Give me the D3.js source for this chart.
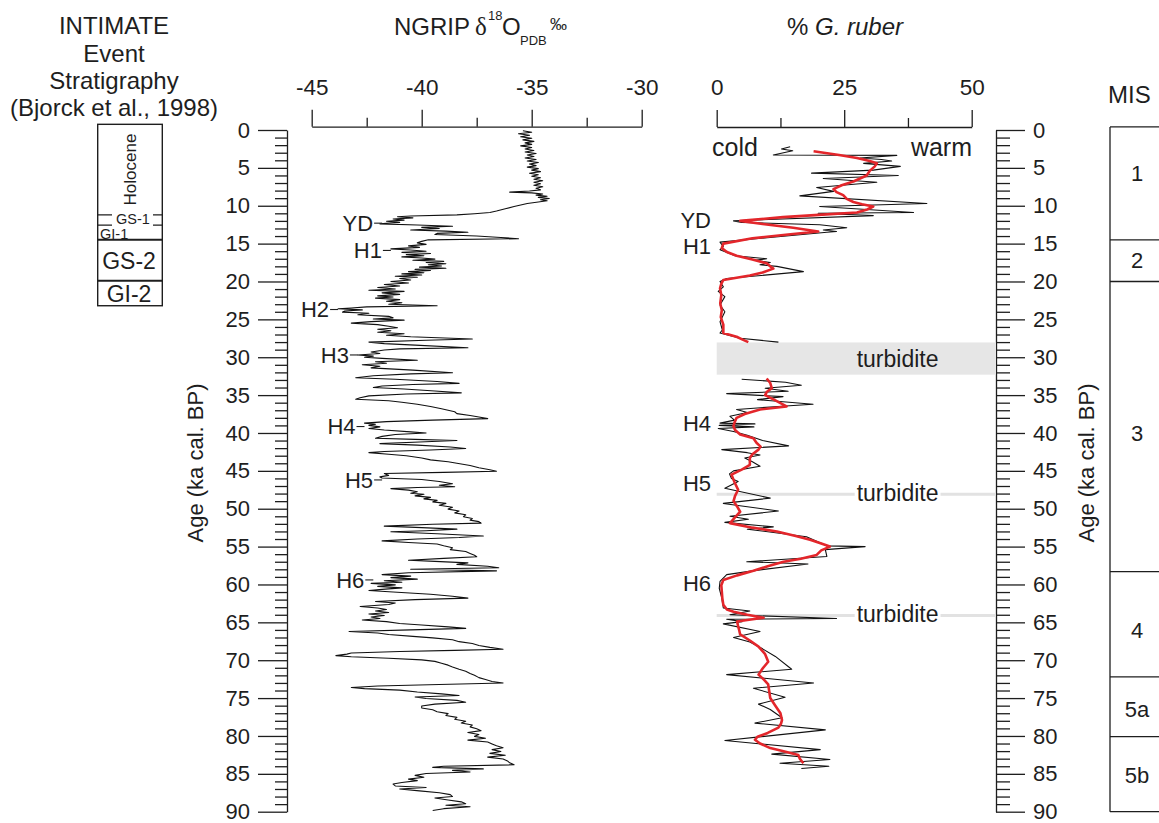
<!DOCTYPE html>
<html><head><meta charset="utf-8">
<script src="https://cdn.jsdelivr.net/npm/d3@7"></script>
<style>
html,body{margin:0;padding:0;background:#fff;}
svg{display:block;font-family:"Liberation Sans",Arial,Helvetica,sans-serif;}
</style></head><body>
<svg id="chart" width="1159" height="823"></svg>
<script>
// ---- axis ticks ----
const ageTicks = [0,5,10,15,20,25,30,35,40,45,50,55,60,65,70,75,80,85,90];
const ngripTicks = [-45,-40,-35,-30];
const ngripMinorTicks = [-42.5,-37.5,-32.5];
const ruberTicks = [0,25,50];
const ruberMinorTicks = [12.5,37.5];

// ---- INTIMATE event stratigraphy (ka) ----
const intimateNames = ["Holocene","GS-1","GI-1","GS-2","GI-2"];
const intimateBounds = [-0.75,11.2,12.55,14.5,19.9,23.2];

// ---- Marine isotope stages (ka) ----
const misNames = ["1","2","3","4","5a","5b"];
const misBounds = [-0.4,14.5,20,58.3,72.2,80.1,90];
const misLabelAges = [5.7,17.2,40,66,76.5,85.1];

// ---- cold events: [name, age ka, NGRIP value at the event] ----
const ngripEvents = [["YD",12.3,-41.8],["H1",15.9,-41.4],["H2",23.7,-43.8],["H3",29.7,-42.9],["H4",39.15,-42.6],["H5",46.2,-41.8],["H6",59.4,-42.2]];
const ruberEvents = [["YD",11.9],["H1",15.4],["H4",38.7],["H5",46.6],["H6",59.9]];

// ---- turbidites (ka) ----
const turbiditeBand = [28.05,32.3];
const turbiditeLayers = [48.1,64.1];

// ---- NGRIP d18O: [age ka, permil] ----
const ngrip = [
[0.1,-35.4],[0.3,-35.0],[0.5,-35.6],[0.7,-35.1],[0.9,-35.5],[1.1,-35.0],[1.3,-35.4],[1.5,-34.9],[1.7,-35.3],[1.9,-35.0],
[2.1,-35.5],[2.3,-35.0],[2.5,-35.3],[2.7,-34.9],[2.9,-35.3],[3.1,-34.8],[3.3,-35.2],[3.5,-34.9],[3.7,-35.3],[3.9,-34.8],
[4.1,-35.2],[4.3,-34.7],[4.5,-35.1],[4.7,-34.8],[4.9,-35.2],[5.1,-34.7],[5.3,-35.0],[5.5,-34.6],[5.7,-35.1],[5.9,-34.7],
[6.1,-35.0],[6.3,-34.6],[6.5,-34.9],[6.7,-34.5],[6.9,-34.9],[7.1,-34.6],[7.3,-34.9],[7.5,-34.5],[7.7,-34.8],[7.9,-34.6],
[8.05,-35.1],[8.2,-36.0],[8.3,-35.0],[8.45,-34.5],[8.6,-34.8],[8.75,-34.3],[8.9,-34.7],[9.05,-34.2],[9.2,-34.6],[9.35,-34.3],
[9.5,-34.7],[9.7,-35.2],[9.9,-35.5],[10.1,-35.8],[10.4,-36.2],[10.7,-36.6],[10.9,-36.9],[11.05,-37.6],[11.2,-38.4],[11.35,-40.5],
[11.45,-41.1],[11.6,-40.4],[11.75,-41.3],[11.9,-40.8],[12.05,-41.6],[12.2,-41.0],[12.4,-41.9],[12.55,-40.2],[12.7,-38.6],[12.85,-40.0],
[13.0,-39.2],[13.2,-40.5],[13.35,-38.9],[13.5,-37.9],[13.65,-39.3],[13.8,-39.4],[14.0,-37.5],[14.2,-36.4],[14.35,-35.6],[14.5,-39.7],
[14.7,-40.0],[14.9,-40.2],[15.1,-39.8],[15.3,-40.6],[15.5,-40.1],[15.7,-41.4],[15.85,-40.5],[16.0,-39.8],[16.15,-40.9],[16.3,-39.6],
[16.45,-40.7],[16.6,-39.9],[16.75,-40.9],[16.9,-40.0],[17.05,-39.4],[17.2,-40.4],[17.35,-39.0],[17.5,-39.8],[17.65,-38.9],[17.8,-39.7],
[17.95,-39.1],[18.1,-40.1],[18.25,-38.9],[18.4,-40.3],[18.55,-39.6],[18.7,-40.6],[18.85,-39.9],[19.0,-40.9],[19.15,-40.0],[19.3,-41.2],
[19.45,-40.2],[19.6,-41.0],[19.8,-40.5],[20.0,-41.4],[20.2,-40.6],[20.4,-41.7],[20.6,-41.0],[20.8,-42.0],[21.0,-41.2],[21.15,-42.4],
[21.3,-40.8],[21.5,-41.8],[21.7,-41.0],[21.9,-42.0],[22.05,-41.3],[22.2,-42.1],[22.4,-41.0],[22.6,-41.6],[22.8,-40.9],[23.0,-41.5],
[23.2,-39.3],[23.35,-42.5],[23.5,-43.2],[23.6,-43.8],[23.75,-42.7],[23.9,-43.5],[24.05,-43.6],[24.2,-42.4],[24.4,-42.9],[24.6,-41.5],
[24.8,-41.3],[24.95,-42.2],[25.1,-40.8],[25.3,-42.3],[25.5,-43.2],[25.7,-42.0],[25.9,-41.5],[26.1,-41.1],[26.3,-42.0],[26.5,-41.4],
[26.7,-42.0],[26.9,-40.8],[27.1,-41.6],[27.3,-40.5],[27.6,-37.7],[27.75,-39.8],[28.0,-42.4],[28.2,-41.7],[28.4,-40.3],[28.75,-37.9],
[28.9,-41.0],[29.05,-41.7],[29.3,-42.3],[29.5,-41.9],[29.7,-42.9],[29.85,-42.2],[30.0,-42.6],[30.15,-41.8],[30.4,-40.2],[30.6,-42.1],
[30.8,-41.6],[31.0,-42.7],[31.2,-41.9],[31.4,-42.3],[31.7,-40.4],[32.05,-38.6],[32.2,-40.5],[32.45,-42.2],[32.7,-43.0],[32.9,-41.2],
[33.2,-39.3],[33.45,-38.3],[33.6,-40.4],[33.8,-41.8],[34.0,-42.2],[34.2,-40.8],[34.45,-39.4],[34.7,-38.2],[34.85,-40.7],[35.1,-42.4],
[35.35,-42.8],[35.55,-43.0],[35.75,-41.5],[35.95,-40.9],[36.2,-40.2],[36.5,-39.6],[36.8,-39.1],[37.0,-38.8],[37.2,-38.5],[37.45,-38.4],
[37.7,-37.8],[37.9,-37.4],[38.1,-37.0],[38.3,-39.5],[38.5,-41.6],[38.7,-42.6],[38.85,-42.1],[39.0,-42.4],[39.2,-41.9],[39.4,-42.4],
[39.6,-41.7],[39.85,-40.5],[40.0,-39.8],[40.2,-41.2],[40.45,-41.8],[40.7,-42.1],[40.85,-40.3],[41.0,-38.4],[41.2,-40.1],[41.4,-41.9],
[41.6,-40.2],[41.85,-38.7],[42.05,-38.0],[42.25,-39.6],[42.45,-41.7],[42.6,-42.4],[42.8,-41.5],[43.0,-40.7],[43.3,-40.0],[43.55,-39.6],
[43.8,-38.8],[44.0,-38.4],[44.3,-37.8],[44.6,-37.4],[44.85,-36.9],[45.05,-36.6],[45.2,-39.0],[45.35,-41.7],[45.6,-41.5],[45.8,-41.9],
[45.95,-41.8],[46.15,-40.0],[46.4,-39.2],[46.7,-38.6],[46.9,-39.2],[47.1,-38.5],[47.2,-40.2],[47.35,-41.4],[47.55,-40.6],[47.75,-40.2],
[47.95,-40.5],[48.1,-39.9],[48.3,-40.3],[48.5,-39.6],[48.7,-39.9],[48.9,-39.3],[49.1,-39.5],[49.3,-38.9],[49.55,-39.2],[49.8,-38.6],
[50.05,-38.8],[50.3,-38.3],[50.55,-38.5],[50.8,-38.0],[51.05,-38.1],[51.3,-37.7],[51.5,-37.8],[51.7,-37.4],[51.9,-37.3],[52.05,-39.5],
[52.3,-41.7],[52.5,-40.0],[52.7,-38.4],[52.9,-39.8],[53.05,-41.4],[53.3,-39.3],[53.6,-37.2],[53.8,-38.3],[54.0,-40.2],[54.25,-41.8],
[54.45,-40.6],[54.65,-39.3],[54.9,-39.0],[55.15,-38.6],[55.4,-38.7],[55.65,-38.0],[55.9,-37.8],[56.15,-37.6],[56.35,-37.5],[56.55,-39.0],
[56.8,-40.6],[56.95,-39.4],[57.15,-37.9],[57.35,-38.4],[57.6,-37.0],[57.8,-36.5],[58.0,-40.5],[58.2,-36.6],[58.45,-40.6],[58.7,-41.8],
[58.9,-40.5],[59.1,-41.4],[59.3,-40.2],[59.5,-41.7],[59.7,-40.9],[59.85,-42.3],[60.05,-41.2],[60.25,-42.0],[60.45,-40.9],[60.65,-41.8],
[60.8,-42.4],[61.0,-41.3],[61.3,-39.6],[61.55,-38.6],[61.8,-37.9],[62.0,-40.3],[62.25,-42.1],[62.45,-41.2],[62.65,-41.5],[62.9,-42.8],
[63.1,-42.0],[63.3,-41.6],[63.5,-42.1],[63.7,-41.5],[63.9,-42.4],[64.1,-41.7],[64.3,-42.3],[64.5,-41.9],[64.7,-42.7],[64.9,-41.6],
[65.15,-41.0],[65.35,-40.0],[65.6,-38.8],[65.8,-38.0],[66.0,-40.5],[66.2,-43.3],[66.4,-42.0],[66.6,-41.5],[66.85,-40.4],[67.05,-39.5],
[67.3,-38.6],[67.55,-38.3],[67.8,-37.7],[68.05,-37.4],[68.3,-36.9],[68.55,-36.3],[68.7,-38.5],[68.85,-41.0],[69.05,-43.2],[69.2,-43.4],
[69.4,-43.9],[69.55,-43.2],[69.75,-41.5],[69.95,-40.0],[70.15,-39.4],[70.4,-39.1],[70.65,-38.8],[70.9,-38.6],[71.2,-38.3],[71.45,-38.0],
[71.75,-37.8],[72.0,-37.6],[72.3,-37.4],[72.55,-37.1],[72.8,-36.8],[73.0,-36.3],[73.2,-39.2],[73.4,-42.0],[73.6,-43.2],[73.75,-42.6],
[73.95,-41.0],[74.2,-40.2],[74.45,-39.1],[74.65,-38.3],[74.85,-40.3],[75.05,-39.8],[75.3,-38.4],[75.55,-38.0],[75.8,-39.4],[76.05,-40.0],
[76.3,-40.0],[76.55,-39.5],[76.8,-39.3],[77.05,-38.8],[77.3,-38.9],[77.55,-38.4],[77.8,-38.5],[78.05,-38.0],[78.3,-38.2],[78.55,-37.7],
[78.8,-37.8],[79.05,-37.5],[79.3,-37.3],[79.55,-37.9],[79.8,-37.4],[80.05,-37.6],[80.3,-37.1],[80.55,-37.9],[80.8,-37.0],[81.05,-36.8],
[81.3,-36.6],[81.55,-36.3],[81.8,-36.8],[82.05,-36.4],[82.3,-36.9],[82.55,-36.2],[82.8,-37.0],[83.05,-36.3],[83.3,-36.1],[83.55,-36.0],
[83.8,-35.8],[84.0,-39.0],[84.15,-39.5],[84.35,-37.2],[84.55,-38.6],[84.75,-37.8],[84.95,-39.8],[85.2,-40.3],[85.45,-39.9],[85.7,-40.6],
[85.9,-40.2],[86.15,-40.9],[86.35,-41.3],[86.6,-41.2],[86.8,-39.8],[87.0,-41.0],[87.25,-40.1],[87.5,-39.2],[87.75,-38.7],[88.0,-38.6],
[88.2,-39.4],[88.45,-38.8],[88.7,-38.2],[88.95,-38.0],[89.15,-38.9],[89.35,-37.8],[89.6,-39.0],[89.85,-39.5]
];

// ---- % G. ruber, raw counts: [age ka, percent] (gap = turbidite) ----
const ruberRawUpper = [
[2.2,14.4],[2.5,12.7],[2.75,14.9],[3.3,11.1],[3.35,35.3],[3.7,28.1],[3.9,32.3],[4.1,34.3],[4.4,28.8],[4.8,36.0],
[5.3,30.7],[5.7,18.6],[6.0,35.6],[6.4,20.9],[6.9,31.4],[7.6,19.6],[8.1,22.9],[8.7,16.3],[9.7,41.2],[10.1,20.2],
[10.9,38.6],[11.0,19.9],[11.3,30.7],[12.0,3.3],[12.2,4.9],[12.5,20.2],[12.9,25.5],[13.2,20.9],[13.4,23.5],[13.5,21.6],
[14.8,0.65],[15.4,1.3],[15.8,0.65],[16.6,3.6],[17.0,9.8],[17.2,7.5],[17.5,10.5],[17.8,8.5],[18.0,11.8],[18.7,17.0],
[19.1,10.5],[19.6,1.96],[20.0,0.65],[20.7,1.3],[21.3,0.3],[22.0,1.6],[23.1,0.65],[24.0,1.6],[25.3,0.65],[26.4,1.1],
[26.8,0.65],[27.5,4.6],[28.0,12.1]
];
const ruberRawLower = [
[32.9,4.9],[33.3,13.5],[33.7,16.6],[34.1,9.5],[34.5,14.0],[34.8,1.96],[35.2,13.0],[35.6,8.0],[36.2,18.9],[36.5,12.0],
[36.9,3.9],[37.3,6.0],[37.8,2.6],[38.3,3.5],[38.7,0.65],[38.8,7.5],[39.0,0.5],[39.2,7.3],[39.4,0.3],[39.8,3.3],
[40.3,6.0],[41.0,9.0],[41.7,14.1],[42.2,1.0],[42.6,6.0],[42.9,8.5],[43.3,5.5],[43.8,7.0],[44.4,8.5],[45.0,3.3],
[45.4,2.5],[46.0,2.9],[46.4,4.2],[47.3,1.6],[48.6,10.5],[49.3,1.3],[50.3,12.1],[51.0,2.6],[51.4,6.2],[51.8,1.6],
[52.4,11.1],[52.7,6.0],[53.7,17.6],[54.9,21.6],[55.0,29.1],[55.4,21.3],[56.3,21.6],[57.0,5.9],[57.3,17.9],[58.2,7.0],
[58.7,1.96],[59.6,0.65],[60.5,0.5],[61.8,1.0],[63.1,1.3],[63.5,6.5],[64.0,2.6],[64.5,23.5],[64.6,1.96],[64.9,5.0],
[65.2,1.3],[66.2,8.5],[67.0,3.3],[67.6,6.5],[68.5,9.0],[69.5,11.5],[71.2,14.7],[71.9,1.96],[73.0,19.0],[73.7,7.2],
[74.9,13.4],[75.8,8.2],[76.5,10.5],[77.6,12.8],[78.3,7.5],[79.2,21.3],[80.6,1.6],[81.8,20.3],[82.4,10.8],[83.1,22.2],
[83.6,12.4],[84.0,22.0],[84.3,16.6]
];

// ---- % G. ruber, smoothed ----
const ruberSmoothUpper = [
[2.8,19.0],[3.3,24.0],[3.7,27.5],[4.1,30.0],[4.4,31.4],[4.8,31.0],[5.4,30.0],[6.0,29.4],[6.8,26.8],[7.3,24.5],
[7.8,22.9],[8.2,23.5],[8.6,24.8],[9.1,25.5],[9.5,26.8],[9.8,28.5],[10.1,30.7],[10.5,29.5],[10.9,27.5],[11.2,20.0],
[11.5,13.0],[12.0,4.6],[12.4,9.0],[12.9,15.0],[13.4,19.9],[13.8,14.0],[14.3,7.0],[15.0,1.3],[15.6,1.0],[16.1,2.0],
[16.6,3.9],[17.1,7.0],[17.6,9.8],[18.0,10.5],[18.3,11.1],[18.8,9.0],[19.2,6.5],[19.8,1.3],[20.3,0.9],[20.9,0.65],
[21.8,0.9],[22.9,0.7],[23.8,1.0],[24.7,0.8],[25.7,1.3],[26.8,1.3],[27.3,3.9],[27.7,5.2],[28.0,6.2]
];
const ruberSmoothLower = [
[32.8,9.8],[33.4,10.5],[34.1,10.8],[34.6,9.8],[35.0,9.5],[35.7,11.5],[36.5,13.7],[36.9,8.5],[37.5,5.5],[38.0,3.9],
[38.6,3.5],[39.1,3.3],[39.6,3.6],[40.2,4.6],[40.7,7.2],[41.3,7.8],[41.8,8.6],[42.2,8.2],[42.8,7.0],[43.3,6.5],
[44.2,6.5],[44.8,5.0],[45.5,2.9],[46.5,3.5],[47.5,4.2],[48.3,3.6],[49.0,3.3],[49.7,4.0],[50.4,4.6],[51.2,3.5],
[51.9,2.6],[52.5,7.0],[53.0,11.8],[53.6,15.5],[54.1,18.3],[54.6,20.5],[55.0,22.2],[55.5,20.5],[56.1,19.6],[56.6,16.5],
[57.0,13.1],[57.6,10.0],[58.2,7.2],[58.8,4.0],[59.4,1.3],[60.1,0.9],[60.9,1.0],[61.8,1.1],[62.7,1.3],[63.3,2.0],
[63.6,3.3],[64.0,6.0],[64.4,9.2],[64.7,6.0],[64.9,4.0],[65.5,4.2],[66.0,4.4],[66.6,4.6],[67.4,6.5],[68.2,8.2],
[69.2,9.5],[70.2,10.1],[71.1,9.0],[71.9,8.2],[72.6,9.3],[73.2,10.1],[74.1,10.3],[75.0,10.5],[76.0,11.5],[77.0,12.5],
[77.9,12.8],[78.4,12.6],[78.9,12.1],[79.6,10.0],[80.1,8.0],[80.5,7.5],[81.0,8.5],[81.6,10.5],[82.1,13.5],[82.5,16.0],
[83.0,16.3],[83.6,17.0]
];

// ================= drawing =================
const svg = d3.select("#chart");
const INK = "#1e1e1e";
const RED = "#e3262b";

const y  = d3.scaleLinear().domain([0, 90]).range([130, 811.7]);
const xN = d3.scaleLinear().domain([-45, -30]).range([311.7, 641.7]);
const xR = d3.scaleLinear().domain([0, 50]).range([716.7, 971.7]);

const minorAges = d3.range(0, 91).filter(d => d % 5 !== 0);

function styleAxis(g, size) {
  g.attr("font-family", null).attr("font-size", null);
  g.selectAll("path.domain").attr("stroke", INK).attr("stroke-width", 1.3);
  g.selectAll(".tick line").attr("stroke", INK).attr("stroke-width", 1.3);
  g.selectAll(".tick text").attr("fill", INK).style("font-size", size + "px");
}

// left age axis
const gL = svg.append("g").attr("transform", "translate(287,0)");
gL.append("g").call(d3.axisLeft(y).tickValues(minorAges).tickSize(12).tickSizeOuter(0).tickFormat(""))
  .call(g => { styleAxis(g, 22); g.select(".domain").remove(); });
gL.append("g").call(d3.axisLeft(y).tickValues(ageTicks).tickSize(29).tickSizeOuter(0).tickPadding(8).tickFormat(d => String(d)))
  .call(g => styleAxis(g, 22));

// right age axis
const gR = svg.append("g").attr("transform", "translate(996,0)");
gR.append("g").call(d3.axisRight(y).tickValues(minorAges).tickSize(14).tickSizeOuter(0).tickFormat(""))
  .call(g => { styleAxis(g, 22); g.select(".domain").remove(); });
gR.append("g").call(d3.axisRight(y).tickValues(ageTicks).tickSize(29).tickSizeOuter(0).tickPadding(8).tickFormat(d => String(d)))
  .call(g => styleAxis(g, 22));

// axis titles
[203, 1094].forEach(x => {
  svg.append("text").attr("transform", `translate(${x},463) rotate(-90)`)
    .attr("text-anchor", "middle").attr("fill", INK).style("font-size", "22px")
    .text("Age (ka cal. BP)");
});

// top axis NGRIP
const gN = svg.append("g").attr("transform", "translate(0,126.7)");
gN.append("g").call(d3.axisTop(xN).tickValues(ngripMinorTicks).tickSize(9).tickSizeOuter(0).tickFormat(""))
  .call(g => { styleAxis(g, 22); g.select(".domain").remove(); });
gN.append("g").call(d3.axisTop(xN).tickValues(ngripTicks).tickSize(17).tickSizeOuter(0).tickPadding(15).tickFormat(d => String(d)))
  .call(g => styleAxis(g, 22.5));

// top axis G. ruber
const gG = svg.append("g").attr("transform", "translate(0,127)");
gG.append("g").call(d3.axisTop(xR).tickValues(ruberMinorTicks).tickSize(9).tickSizeOuter(0).tickFormat(""))
  .call(g => { styleAxis(g, 22); g.select(".domain").remove(); });
gG.append("g").call(d3.axisTop(xR).tickValues(ruberTicks).tickSize(17).tickSizeOuter(0).tickPadding(15).tickFormat(d => String(d)))
  .call(g => styleAxis(g, 22.5));

// NGRIP title with super/subscripts
const tN = svg.append("g").attr("fill", INK);
tN.append("text").attr("x", 394).attr("y", 35).style("font-size", "24px").text("NGRIP");
tN.append("text").attr("x", 475).attr("y", 35).style("font-size", "25px").style("font-family", "'Liberation Serif','DejaVu Serif',serif").text("δ");
tN.append("text").attr("x", 488).attr("y", 20).style("font-size", "13px").text("18");
tN.append("text").attr("x", 502).attr("y", 35).style("font-size", "24px").text("O");
tN.append("text").attr("x", 520).attr("y", 45).style("font-size", "13px").text("PDB");
tN.append("text").attr("x", 550).attr("y", 30).style("font-size", "17px").text("‰");

// G. ruber title
const tG = svg.append("text").attr("x", 787).attr("y", 35).attr("fill", INK).style("font-size", "24px");
tG.append("tspan").text("% ");
tG.append("tspan").style("font-style", "italic").text("G. ruber");

// cold / warm
svg.append("text").attr("x", 712).attr("y", 156).attr("fill", INK).style("font-size", "25px").text("cold");
svg.append("text").attr("x", 972).attr("y", 156).attr("text-anchor", "end").attr("fill", INK).style("font-size", "25px").text("warm");

// turbidite band and layers
const turbX0 = xR(0), turbX1 = 996;
svg.append("rect").attr("x", turbX0).attr("y", y(turbiditeBand[0]))
  .attr("width", turbX1 - turbX0).attr("height", y(turbiditeBand[1]) - y(turbiditeBand[0]))
  .attr("fill", "#e6e6e6");
svg.append("text").attr("x", 856.7).attr("y", (y(turbiditeBand[0]) + y(turbiditeBand[1])) / 2)
  .attr("dy", "0.35em").attr("fill", INK).style("font-size", "23px").text("turbidite");

turbiditeLayers.forEach(a => {
  svg.append("line").attr("x1", turbX0).attr("x2", turbX1).attr("y1", y(a)).attr("y2", y(a))
    .attr("stroke", "#e2e2e2").attr("stroke-width", 3);
  const t = svg.append("text").attr("x", 856.7).attr("y", y(a)).attr("dy", "0.3em")
    .attr("fill", INK).style("font-size", "23px").text("turbidite");
  const bb = t.node().getBBox();
  svg.insert("rect", () => t.node()).attr("x", bb.x - 2).attr("y", y(a) - 3)
    .attr("width", bb.width + 4).attr("height", 6).attr("fill", "#fff");
});

// curves
const lineN = d3.line().x(d => xN(d[1])).y(d => y(d[0]));
const lineR = d3.line().x(d => xR(d[1])).y(d => y(d[0]));

svg.append("path").datum(ngrip).attr("d", lineN)
  .attr("fill", "none").attr("stroke", "#111").attr("stroke-width", 1.1).attr("stroke-linejoin", "round");

[ruberRawUpper, ruberRawLower].forEach(s => {
  svg.append("path").datum(s).attr("d", lineR)
    .attr("fill", "none").attr("stroke", "#111").attr("stroke-width", 1.1).attr("stroke-linejoin", "round");
});
[ruberSmoothUpper, ruberSmoothLower].forEach(s => {
  svg.append("path").datum(s).attr("d", lineR)
    .attr("fill", "none").attr("stroke", RED).attr("stroke-width", 2.6).attr("stroke-linejoin", "round");
});

// event labels
ngripEvents.forEach(([name, age, v]) => {
  const xe = xN(v);
  svg.append("text").attr("x", xe - 9).attr("y", y(age)).attr("dy", "0.35em")
    .attr("text-anchor", "end").attr("fill", INK).style("font-size", "22px").text(name);
  svg.append("line").attr("x1", xe - 8).attr("x2", xe).attr("y1", y(age)).attr("y2", y(age))
    .attr("stroke", INK).attr("stroke-width", 1.1);
});
ruberEvents.forEach(([name, age]) => {
  svg.append("text").attr("x", 711).attr("y", y(age)).attr("dy", "0.35em")
    .attr("text-anchor", "end").attr("fill", INK).style("font-size", "22px").text(name);
});

// INTIMATE stratigraphy column
const ix0 = 97.7, ix1 = 162.3, icx = (ix0 + ix1) / 2;
const tI = ["INTIMATE", "Event", "Stratigraphy", "(Bjorck et al., 1998)"];
tI.forEach((s, i) => {
  svg.append("text").attr("x", 114).attr("y", 34.3 + i * 27.2).attr("text-anchor", "middle")
    .attr("fill", INK).style("font-size", "24px").text(s);
});
const gI = svg.append("g");
gI.append("rect").attr("x", ix0).attr("y", y(intimateBounds[0])).attr("width", ix1 - ix0)
  .attr("height", y(intimateBounds[intimateBounds.length - 1]) - y(intimateBounds[0]))
  .attr("fill", "none").attr("stroke", INK).attr("stroke-width", 1.4);
intimateBounds.slice(1, -1).forEach(b => {
  gI.append("line").attr("x1", ix0).attr("x2", ix1).attr("y1", y(b)).attr("y2", y(b))
    .attr("stroke", INK).attr("stroke-width", b === 14.5 || b === 19.9 ? 2 : 1.2);
});
intimateNames.forEach((name, i) => {
  const mid = y((intimateBounds[i] + intimateBounds[i + 1]) / 2);
  if (name === "Holocene") {
    gI.append("text").attr("transform", `translate(${icx + 6},${mid}) rotate(-90)`)
      .attr("text-anchor", "middle").attr("fill", INK).style("font-size", "17px").text(name);
  } else if (name === "GS-1") {
    gI.append("rect").attr("x", 112).attr("y", y(intimateBounds[i]) - 2.5).attr("width", 41)
      .attr("height", y(intimateBounds[i + 1]) - y(intimateBounds[i]) + 4).attr("fill", "#fff");
    gI.append("text").attr("x", 133).attr("y", mid - 1.5).attr("dy", "0.36em").attr("text-anchor", "middle")
      .attr("fill", INK).style("font-size", "14.5px").text(name);
  } else if (name === "GI-1") {
    gI.append("text").attr("x", 100).attr("y", mid + 1.5).attr("dy", "0.36em")
      .attr("fill", INK).style("font-size", "14.5px").text(name);
  } else {
    gI.append("text").attr("x", icx - 1).attr("y", mid).attr("dy", "0.36em").attr("text-anchor", "middle")
      .attr("fill", INK).style("font-size", "23px").text(name);
  }
});

// MIS column
svg.append("text").attr("x", 1108).attr("y", 103).attr("fill", INK).style("font-size", "24px").text("MIS");
const gM = svg.append("g");
gM.append("line").attr("x1", 1110).attr("x2", 1110).attr("y1", y(misBounds[0])).attr("y2", y(misBounds[misBounds.length - 1]))
  .attr("stroke", INK).attr("stroke-width", 1.3);
misBounds.forEach(b => {
  gM.append("line").attr("x1", 1110).attr("x2", 1170).attr("y1", y(b)).attr("y2", y(b))
    .attr("stroke", INK).attr("stroke-width", 1.3);
});
misNames.forEach((name, i) => {
  gM.append("text").attr("x", 1137).attr("y", y(misLabelAges[i])).attr("dy", "0.36em")
    .attr("text-anchor", "middle").attr("fill", INK).style("font-size", "22px").text(name);
});
</script></body></html>
